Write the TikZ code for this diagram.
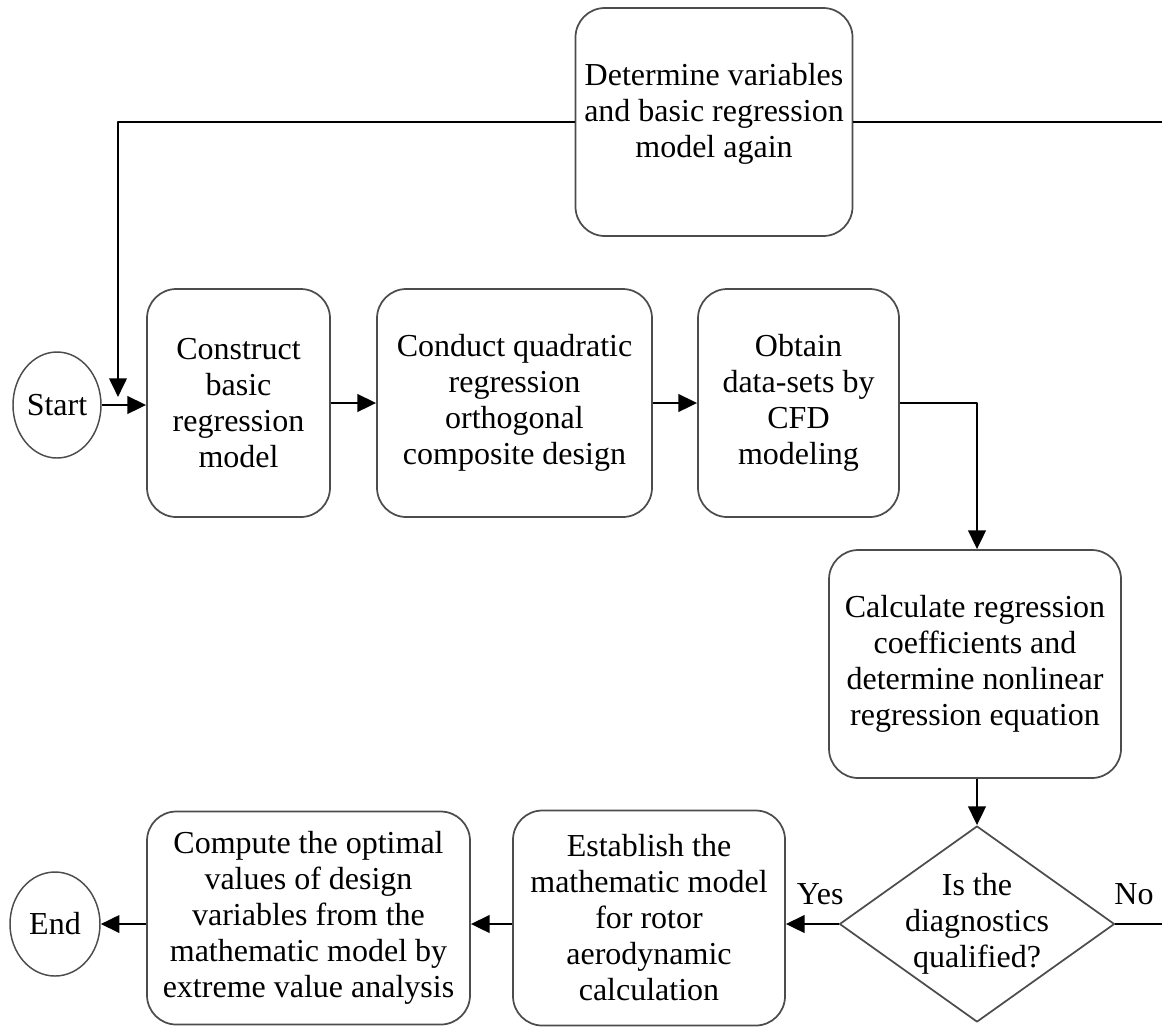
\documentclass[tikz,border=0pt]{standalone}
\usepackage{fontspec}
\setmainfont{Liberation Serif}
\usetikzlibrary{arrows.meta,shapes.geometric}
\begin{document}
\def\px{0.75pt}
\begin{tikzpicture}[x=\px, y=-\px, font=\fontsize{24}{27}\selectfont, line join=round, >={Triangle[length=14pt,width=13pt]},
	box/.style={draw=black!70, line width=1.3pt, rounded corners=22pt, align=center, inner sep=0pt},
	term/.style={draw=black!70, line width=1.1pt, ellipse, inner sep=0pt},
	decide/.style={draw=black!70, line width=1.3pt, diamond, inner sep=0pt},
	link/.style={line width=2.1pt}]
	\useasboundingbox (0,0) rectangle (1162,1033);
	% top box
	\node[box, minimum width=277*\px, minimum height=228*\px] (again) at (714,122) {Determine variables\\and basic regression\\model again\\[-10pt]};
	% middle row
	\node[term, minimum width=88*\px, minimum height=106*\px] (start) at (57,405) {Start};
	\node[box, minimum width=183*\px, minimum height=228*\px] (construct) at (238.5,403) {Construct\\basic\\regression\\model};
	\node[box, minimum width=275*\px, minimum height=228*\px] (conduct) at (514.5,403) {Conduct quadratic\\regression\\orthogonal\\composite design};
	\node[box, minimum width=201*\px, minimum height=228*\px] (obtain) at (798.5,403) {Obtain\\data-sets by\\CFD\\modeling};
	\node[box, minimum width=292*\px, minimum height=228*\px] (calc) at (975,664) {Calculate regression\\coefficients and\\determine nonlinear\\regression equation};
	% bottom row
	\node[decide, minimum width=275*\px, minimum height=196*\px] (diag) at (977,924) {};
	\node[align=center, inner sep=0pt] (diagtext) at (diag) {Is the\\diagnostics\\qualified?};
	\node[box, minimum width=272*\px, minimum height=215*\px] (establish) at (649,918) {Establish the\\mathematic model\\for rotor\\aerodynamic\\calculation};
	\node[box, minimum width=323*\px, minimum height=213*\px] (compute) at (308.5,918) {Compute the optimal\\values of design\\variables from the\\mathematic model by\\extreme value analysis};
	\node[term, minimum width=90*\px, minimum height=104*\px] (stop) at (55,924) {End};
	\coordinate (loopin) at (118,397);
	\coordinate (redge) at (1162,0);
	% connectors
	\draw[link,->] (again.west) -| (loopin);
	\draw[link] (again.east) -- (again.east -| redge);
	\draw[link,->] (start.east) -- (start.east -| construct.west);
	\draw[link,->] (construct.east) -- (conduct.west);
	\draw[link,->] (conduct.east) -- (obtain.west);
	\draw[link,->] (obtain.east) -| (diag.north |- calc.north);
	\draw[link,->] (diag.north |- calc.south) -- (diag.north);
	\draw[link,->] (diag.west) -- (diag.west -| establish.east) node[pos=0.35, above=10pt] (yes) {Yes};
	\draw[link] (diag.east) -- (diag.east -| redge) node[pos=0.4, above=10pt] (no) {No};
	\draw[link,->] (establish.west |- diag.west) -- (compute.east |- diag.west);
	\draw[link,->] (compute.west |- diag.west) -- (stop.east);
\end{tikzpicture}
\end{document}
